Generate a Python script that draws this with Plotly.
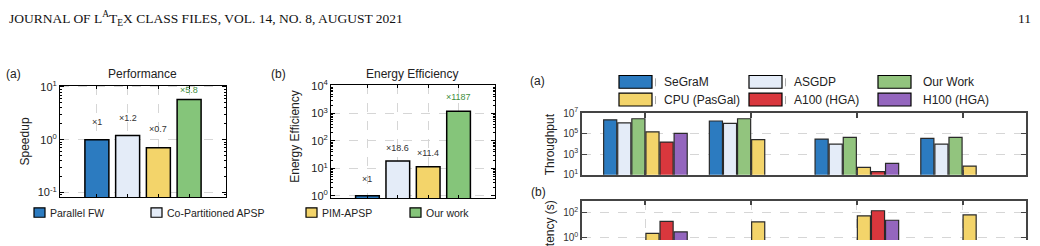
import plotly.graph_objects as go
import math

W, H = 1040, 246

# ---------------- data ----------------
perf_methods = ["Parallel FW", "Co-Partitioned APSP", "PIM-APSP", "Our work"]
perf_pos = [1, 2, 3, 4]
perf_speedup = [1.0, 1.2, 0.7, 5.8]
perf_labels = ["×1", "×1.2", "×0.7", "×5.8"]
energy_eff = [1.0, 18.6, 11.4, 1187]
energy_labels = ["×1", "×18.6", "×11.4", "×1187"]

sys_names = ["SeGraM", "ASGDP", "Our Work", "CPU (PasGal)", "A100 (HGA)", "H100 (HGA)"]
groups = [1, 2, 3, 4]
thr_segram = [2.2e6, 1.7e6, 2.9e4, 3.4e4]
thr_asgdp = [1.1e6, 1.0e6, 9.3e3, 9.3e3]
thr_ours = [2.8e6, 2.8e6, 4.2e4, 4.2e4]
thr_cpu = [1.5e5, 2.6e4, 52, 69]
thr_a100 = [1.5e4, None, 20, None]
thr_h100 = [1.05e5, None, 126, None]

lat_segram = [0.15, 0.29, 0.10, 0.14]
lat_asgdp = [0.30, 0.50, 0.32, 0.50]
lat_ours = [0.12, 0.18, 0.07, 0.11]
lat_cpu = [2.3, 19, 59, 70]
lat_a100 = [21, None, 150, None]
lat_h100 = [3.0, None, 26, None]

thr_ticks = [1e1, 1e3, 1e5, 1e7]
thr_ticktext = ["10<sup>1</sup>", "10<sup>3</sup>", "10<sup>5</sup>", "10<sup>7</sup>"]
lat_ticks = [1e-2, 1e0, 1e2]
lat_ticktext = ["10<sup>-2</sup>", "10<sup>0</sup>", "10<sup>2</sup>"]
perf_ticks = [0.1, 1, 10]
perf_ticktext = ["10<sup>-1</sup>", "10<sup>0</sup>", "10<sup>1</sup>"]
en_ticks = [1, 10, 100, 1000, 10000]
en_ticktext = ["10<sup>0</sup>", "10<sup>1</sup>", "10<sup>2</sup>", "10<sup>3</sup>", "10<sup>4</sup>"]

# ---------------- style ----------------
C_BLUE = "#2C7BC0"
C_LBLUE = "#E4ECF8"
C_YELLOW = "#F3D46A"
C_GREEN = "#85C57A"
C_GREEN_R = "#92C47E"
C_RED = "#D9373D"
C_PURPLE = "#9466BE"
perf_colors = [C_BLUE, C_LBLUE, C_YELLOW, C_GREEN]
sys_colors = [C_BLUE, C_LBLUE, C_GREEN_R, C_YELLOW, C_RED, C_PURPLE]
label_colors = ["#333333", "#333333", "#333333", "#3E8E3E"]
perf_label_shift = [18, 17, 18.5, 9.5]
en_label_shift = [17, 13, 14, 14]
FONT = "Liberation Sans, Arial, sans-serif"
SERIF = "Liberation Serif, Times New Roman, serif"
GRID = "#D6D6D6"


def px(x):
    return x / W


def py(y):
    return 1 - y / H


def minor_vals(lo, hi):
    out = []
    for e in range(lo, hi):
        for m in range(2, 10):
            out.append(m * 10 ** e)
    return out


fig = go.Figure()

fig.add_trace(go.Bar(x=perf_pos, y=perf_speedup, width=0.78,
                     marker=dict(color=perf_colors, line=dict(color="black", width=1.5)),
                     xaxis="x", yaxis="y", showlegend=False))
fig.add_trace(go.Bar(x=perf_pos, y=energy_eff, width=0.78,
                     marker=dict(color=perf_colors, line=dict(color="black", width=1.5)),
                     xaxis="x2", yaxis="y2", showlegend=False))

thr_series = [thr_segram, thr_asgdp, thr_ours, thr_cpu, thr_a100, thr_h100]
lat_series = [lat_segram, lat_asgdp, lat_ours, lat_cpu, lat_a100, lat_h100]
for name, col, t in zip(sys_names, sys_colors, thr_series):
    fig.add_trace(go.Bar(x=groups, y=t, name=name,
                         marker=dict(color=col, line=dict(color="#2a2a2a", width=1.2)),
                         xaxis="x3", yaxis="y3", showlegend=False))
for name, col, l in zip(sys_names, sys_colors, lat_series):
    fig.add_trace(go.Bar(x=groups, y=l, name=name,
                         marker=dict(color=col, line=dict(color="#2a2a2a", width=1.2)),
                         xaxis="x4", yaxis="y4", showlegend=False))

common_x = dict(showticklabels=False, ticks="inside", ticklen=3, showline=True,
                mirror="ticks", linecolor="black", linewidth=1, tickcolor="black",
                showgrid=True, gridcolor=GRID, griddash="dash", gridwidth=1, zeroline=False)
common_y = dict(type="log", ticks="inside", ticklen=4, showline=True, mirror="ticks",
                linecolor="black", linewidth=1, tickcolor="black", showgrid=True,
                gridcolor=GRID, griddash="dash", gridwidth=1, zeroline=False,
                tickfont=dict(family=FONT, size=11, color="#222"))

layout = dict(
    width=W, height=H, margin=dict(l=0, r=0, t=0, b=0, pad=0), autosize=False,
    paper_bgcolor="white", plot_bgcolor="white",
    barmode="group", bargap=0.2, bargroupgap=0.07, showlegend=False,
    font=dict(family=FONT, size=11, color="#222"),
    xaxis=dict(domain=[px(60), px(226)], range=[-0.2, 5.2], tickvals=perf_pos,
               anchor="y", **common_x),
    yaxis=dict(domain=[py(200.7), py(83.3)], range=[-1.09, 1.02], tickvals=perf_ticks,
               ticktext=perf_ticktext, anchor="x",
               minor=dict(ticks="inside", ticklen=2, tickcolor="black",
                          tickvals=minor_vals(-2, 1), showgrid=False),
               **common_y),
    xaxis2=dict(domain=[px(331), px(495)], range=[-0.2, 5.2], tickvals=perf_pos,
                anchor="y2", **common_x),
    yaxis2=dict(domain=[py(201.7), py(82.7)], range=[-0.08, 4.02], tickvals=en_ticks,
                ticktext=en_ticktext, anchor="x2",
                minor=dict(ticks="inside", ticklen=2, tickcolor="black",
                           tickvals=minor_vals(0, 4), showgrid=False),
                **common_y),
    xaxis3=dict(domain=[px(582), px(1026)], range=[0.4, 4.6], tickvals=groups,
                anchor="y3", showticklabels=False, ticks="inside", ticklen=5,
                showline=True, mirror="ticks", linecolor="#444", linewidth=1.5,
                tickcolor="#444", tickwidth=1.5, showgrid=False, zeroline=False),
    yaxis3=dict(domain=[py(177), py(112)], range=[1, 7], type="log", tickvals=thr_ticks,
                ticktext=thr_ticktext, anchor="x3", ticks="inside", ticklen=5,
                showline=True, mirror="ticks", linecolor="#444", linewidth=1.5,
                tickcolor="#444", tickwidth=1, showgrid=True, gridcolor=GRID,
                griddash="dash", zeroline=False,
                tickfont=dict(family=FONT, size=10, color="#333")),
    xaxis4=dict(domain=[px(582), px(1026)], range=[0.4, 4.6], tickvals=groups,
                anchor="y4", side="top", showticklabels=False, ticks="inside", ticklen=5,
                showline=True, linecolor="#444", linewidth=1.5, tickcolor="#444",
                tickwidth=1.5, showgrid=True, gridcolor=GRID, griddash="dash",
                zeroline=False),
    yaxis4=dict(domain=[0, py(204.3)], range=[-0.17, 3.0], type="log", tickvals=lat_ticks,
                ticktext=lat_ticktext, anchor="x4", ticks="inside", ticklen=5,
                showline=True, mirror="ticks", linecolor="#444", linewidth=1.5,
                tickcolor="#444", tickwidth=1, showgrid=True, gridcolor=GRID,
                griddash="dash", zeroline=False,
                tickfont=dict(family=FONT, size=10, color="#333")),
)
fig.update_layout(**layout)

ann = []


def text(x, y, s, size=12, color="#222", xanchor="center", family=FONT, angle=0, yanchor="middle"):
    ann.append(dict(x=px(x), y=py(y), xref="paper", yref="paper", text=s, showarrow=False,
                    xanchor=xanchor, yanchor=yanchor, textangle=angle,
                    font=dict(family=family, size=size, color=color)))


text(7, 12, "JOURNAL OF L<sup>A</sup>T<sub>E</sub>X CLASS FILES, VOL. 14, NO. 8, AUGUST 2021",
     size=13.5, color="#111", xanchor="left", family=SERIF)
text(1033, 12, "11", size=13.5, color="#111", xanchor="right", family=SERIF)

text(13, 71, "(a)")
text(142, 71, "Performance")
text(25, 142, "Speedup", angle=-90)
text(278, 71, "(b)")
text(412, 71, "Energy Efficiency")
text(295, 137, "Energy Efficiency", angle=-90)
text(537, 78, "(a)")
text(550, 145, "Throughput", angle=-90)
text(538, 195, "(b)")
text(550, 236, "Latency (s)", angle=-90)

for i, (v, s) in enumerate(zip(perf_speedup, perf_labels)):
    ann.append(dict(x=perf_pos[i], y=math.log10(v), xref="x", yref="y", text=s,
                    showarrow=False, yshift=perf_label_shift[i],
                    font=dict(family=FONT, size=9, color=label_colors[i])))
for i, (v, s) in enumerate(zip(energy_eff, energy_labels)):
    ann.append(dict(x=perf_pos[i], y=math.log10(v), xref="x2", yref="y2", text=s,
                    showarrow=False, yshift=en_label_shift[i],
                    font=dict(family=FONT, size=9, color=label_colors[i])))

shapes = []


def swatch(x0, y0, x1, y1, col, lw=1):
    shapes.append(dict(type="rect", xref="paper", yref="paper", x0=px(x0), x1=px(x1),
                       y0=py(y1), y1=py(y0), fillcolor=col,
                       line=dict(color="black", width=lw)))


left_leg = [(34, perf_methods[0], perf_colors[0]), (151, perf_methods[1], perf_colors[1]),
            (306, perf_methods[2], perf_colors[2]), (410, perf_methods[3], perf_colors[3])]
for x0, name, col in left_leg:
    swatch(x0, 212, x0 + 11, 222, col, lw=1.2)
    text(x0 + 14, 217, name, size=10.5, xanchor="left")

cols_x = [619, 749, 878]
rows_y = [72.3, 91]
order = [("SeGraM", C_BLUE), ("ASGDP", C_LBLUE), ("Our Work", C_GREEN_R),
         ("CPU (PasGal)", C_YELLOW), ("A100 (HGA)", C_RED), ("H100 (HGA)", C_PURPLE)]
for k, (name, col) in enumerate(order):
    cx = cols_x[k % 3]
    ry = rows_y[k // 3]
    swatch(cx, ry, cx + 33, ry + 13.5, col, lw=1.2)
    if k % 3 != 2:
        shapes.append(dict(type="line", xref="paper", yref="paper", x0=px(cx + 36.5),
                           x1=px(cx + 36.5), y0=py(ry + 11.5), y1=py(ry + 3),
                           line=dict(color="#AAAAAA", width=1)))
    text(cx + 43, ry + 7, name, size=12, xanchor="left")

fig.update_layout(annotations=ann, shapes=shapes)
fig.write_html("out.html")
